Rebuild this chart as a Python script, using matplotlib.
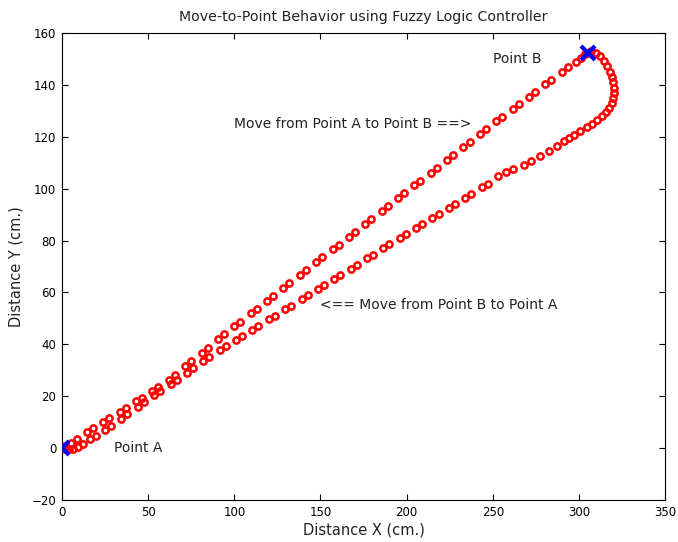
import numpy as np
import matplotlib
matplotlib.use('Agg')
import matplotlib.pyplot as plt

# path from Point A to Point B (upper track)
goX = [0, 2, 5, 8.5, 14.5, 18, 24, 27.5, 33.5, 37, 43, 46.5, 52.5, 56, 62, 65.5,
       71.5, 75, 81, 84.5, 90.5, 94, 100, 103.5, 109.5, 113, 119, 122.5, 128.5, 132,
       138, 141.5, 147.5, 151, 157, 160.5, 166.5, 170, 176, 179.5, 185.5, 189, 195,
       198.5, 204.5, 208, 214, 217.5, 223.5, 227, 233, 236.5, 242.5, 246, 252, 255.5,
       261.5, 265, 271, 274.5, 280.5, 284, 290, 293.5, 298, 301, 303.5, 305]
goY = [0, 0.8, 2.1, 3.6, 6.1, 7.6, 10.1, 11.6, 14.1, 15.5, 18.1, 19.5, 22.1, 23.5,
       26.3, 28.2, 31.5, 33.5, 36.8, 38.7, 42.0, 43.8, 47.0, 48.8, 51.9, 53.7, 56.8,
       58.7, 61.8, 63.6, 66.7, 68.5, 71.7, 73.5, 76.6, 78.4, 81.5, 83.4, 86.5, 88.3,
       91.4, 93.2, 96.4, 98.2, 101.3, 103.1, 106.2, 108.1, 111.2, 113.0, 116.1, 117.9,
       121.1, 122.9, 126.0, 127.8, 130.8, 132.5, 135.5, 137.3, 140.3, 142.0, 145.0,
       146.8, 149.0, 150.5, 151.8, 152.5]

# path back from Point B to Point A (loop + lower track)
backX = [307, 310, 312.5, 314.5, 316.3, 318, 319, 320, 320.4, 320.3, 320, 319.2, 317.5,
         315.5, 313.2, 310.5, 307.5, 304.5, 300.6, 297, 294, 291.5, 287, 282.5, 277.5,
         272, 268, 262, 257.5, 253, 247, 243.5, 237.5, 234, 228, 224.5, 218.5, 215, 209,
         205.5, 199.5, 196, 190, 186.5, 180.5, 177, 171, 167.5, 161.5, 158, 152, 148.5,
         142.5, 139, 133, 129.5, 123.5, 120, 114, 110.5, 104.5, 101, 95, 91.5, 85.5, 82,
         76, 72.5, 66.5, 63, 57, 53.5, 47.5, 44, 38, 34.5, 28.5, 25, 19.5, 16.5, 12, 9.5,
         6.5, 4, 2, 0.5]
backY = [153.2, 152.3, 151, 149.3, 147.3, 145, 143, 141, 139, 137, 135, 133, 131,
         129.6, 128, 126.5, 125, 123.7, 122.3, 120.8, 119.5, 118.5, 116.4, 114.7, 112.8,
         110.6, 109.1, 107.6, 106.3, 105, 102.0, 100.6, 98.1, 96.6, 94.2, 92.7, 90.2,
         88.8, 86.3, 84.9, 82.4, 80.9, 78.5, 77.0, 74.5, 73.1, 70.6, 69.2, 66.7, 65.3,
         62.8, 61.3, 58.9, 57.4, 54.9, 53.5, 51.0, 49.6, 47.1, 45.6, 43.2, 41.7, 39.2,
         37.8, 35.0, 33.4, 30.7, 29.1, 26.4, 24.8, 22.0, 20.3, 17.6, 16.0, 13.1, 11.4,
         8.6, 7.0, 4.6, 3.4, 1.6, 0.6, -0.3, -0.4, -0.2, 0.0]

ptsX = [0, 305]
ptsY = [0, 152.5]

plt.rcParams['font.family'] = ['DejaVu Sans']

fig = plt.figure(figsize=(6.78, 5.42), dpi=100)
ax = fig.add_axes([0.0914, 0.0775, 0.8896, 0.8615])

ax.plot(goX + backX, goY + backY, 'o', color='red', mfc='none', ms=4.5, mew=1.8, zorder=3)
ax.plot(ptsX, ptsY, 'x', color='blue', ms=10, mew=3, zorder=4)

ax.text(100, 125, 'Move from Point A to Point B ==>', va='center', fontsize=10, color='#222222')
ax.text(150, 55, '<== Move from Point B to Point A', va='center', fontsize=10, color='#222222')
ax.text(250, 150, 'Point B', va='center', fontsize=10, color='#222222')
ax.text(30, 0, 'Point A', va='center', fontsize=10, color='#222222')

ax.set_xlim(0, 350)
ax.set_ylim(-20, 160)
ax.set_xticks(np.arange(0, 351, 50))
ax.set_yticks(np.arange(-20, 161, 20))
ax.tick_params(direction='in', top=True, right=True, length=4, labelsize=8.5, pad=4)
ax.set_xlabel('Distance X (cm.)', fontsize=10.5, labelpad=3, color='#222222')
ax.set_ylabel('Distance Y (cm.)', fontsize=10.5, labelpad=6, color='#222222')
ax.set_title('Move-to-Point Behavior using Fuzzy Logic Controller', fontsize=10.2, pad=9,
             color='#222222')

fig.savefig('out.png', dpi=100)
